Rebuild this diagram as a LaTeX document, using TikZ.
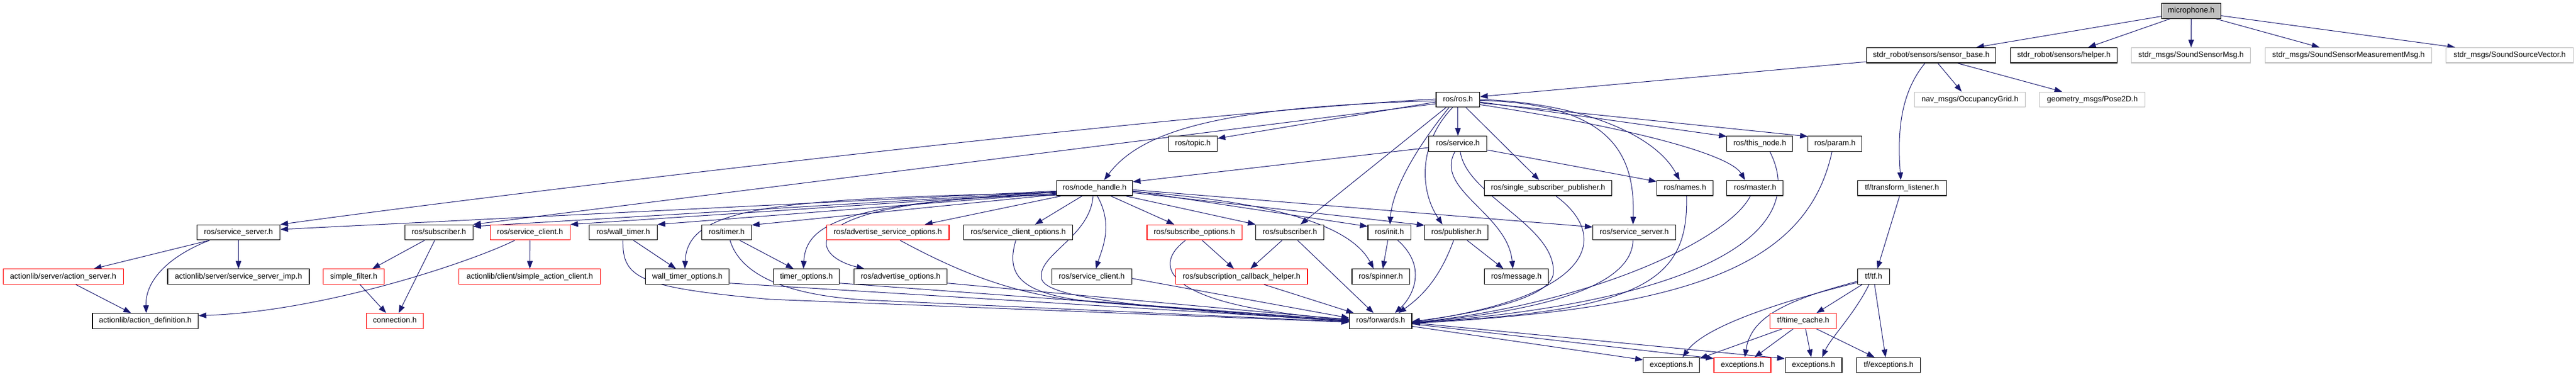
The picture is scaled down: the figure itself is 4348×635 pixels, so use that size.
\documentclass[tikz,border=0pt]{standalone}
\usepackage{fontspec}
\setmainfont{Liberation Sans}
\usetikzlibrary{arrows.meta,calc,backgrounds}
\definecolor{edgec}{RGB}{25,25,112}
\definecolor{extgrey}{RGB}{191,191,191}
\begin{document}
\begin{tikzpicture}[x=1pt,y=-1pt,
  hbox/.style={draw=black, line width=1.1pt, fill=white, minimum height=25.6pt, inner sep=0pt,
     font=\fontsize{13}{15}\selectfont, text height=9.5pt, text depth=2.8pt},
  rbox/.style={hbox, draw=red},
  gbox/.style={hbox, draw=extgrey},
  mbox/.style={hbox, fill=extgrey},
  dep/.style={draw=edgec, line width=1pt, -{Triangle[length=13pt,width=9.5pt]}}]
\useasboundingbox (0,0) rectangle (4348,635);
% row 0
\node[mbox, minimum width=99.7pt] (mic) at (3698.5,18.5) {microphone.h};
% row 1
\node[hbox, minimum width=218.4pt] (sb) at (3259.7,93.2) {stdr\_robot/sensors/sensor\_base.h};
\node[hbox, minimum width=180.2pt] (helper) at (3483.6,93.2) {stdr\_robot/sensors/helper.h};
\node[gbox, minimum width=201.2pt] (ssm) at (3698.3,93.2) {stdr\_msgs/SoundSensorMsg.h};
\node[gbox, minimum width=280.5pt] (ssmm) at (3964,93.2) {stdr\_msgs/SoundSensorMeasurementMsg.h};
\node[gbox, minimum width=214.7pt] (ssv) at (4235.9,93.2) {stdr\_msgs/SoundSourceVector.h};
% row 2
\node[hbox, minimum width=73.6pt] (ros) at (2460.8,168) {ros/ros.h};
\node[gbox, minimum width=187.2pt] (occ) at (3325.1,168) {nav\_msgs/OccupancyGrid.h};
\node[gbox, minimum width=177.6pt] (pose) at (3531.7,168) {geometry\_msgs/Pose2D.h};
% row 3
\node[hbox, minimum width=82.4pt] (topic) at (2013.4,242.5) {ros/topic.h};
\node[hbox, minimum width=97.8pt] (service) at (2460.8,242.5) {ros/service.h};
\node[hbox, minimum width=110.8pt] (thisnode) at (2970.3,242.5) {ros/this\_node.h};
\node[hbox, minimum width=90.8pt] (param) at (3097.2,242.5) {ros/param.h};
% row 4
\node[hbox, minimum width=128pt] (nh) at (1847.6,317.2) {ros/node\_handle.h};
\node[hbox, minimum width=215.1pt] (ssp) at (2613,317.2) {ros/single\_subscriber\_publisher.h};
\node[hbox, minimum width=95.1pt] (names) at (2844,317.2) {ros/names.h};
\node[hbox, minimum width=95pt] (master) at (2962.4,317.2) {ros/master.h};
\node[hbox, minimum width=149.5pt] (tl) at (3210.3,317.2) {tf/transform\_listener.h};
% row 5
\node[hbox, minimum width=140.2pt] (ssL) at (402.5,392) {ros/service\_server.h};
\node[hbox, minimum width=114.7pt] (subL) at (740.8,392) {ros/subscriber.h};
\node[rbox, minimum width=135pt] (sc) at (894.6,392) {ros/service\_client.h};
\node[hbox, minimum width=114.5pt] (wt) at (1052,392) {ros/wall\_timer.h};
\node[hbox, minimum width=83.8pt] (timer) at (1226.6,392) {ros/timer.h};
\node[rbox, minimum width=206.9pt] (aso) at (1498.5,392) {ros/advertise\_service\_options.h};
\node[hbox, minimum width=183.9pt] (sco) at (1718.6,392) {ros/service\_client\_options.h};
\node[rbox, minimum width=160.1pt] (subo) at (2016,392) {ros/subscribe\_options.h};
\node[hbox, minimum width=114.7pt] (subR) at (2177.1,392) {ros/subscriber.h};
\node[hbox, minimum width=72.2pt] (init) at (2345.1,392) {ros/init.h};
\node[hbox, minimum width=106.6pt] (pub) at (2458.2,392) {ros/publisher.h};
\node[hbox, minimum width=139.6pt] (ssR) at (2758.3,392) {ros/service\_server.h};
% row 6
\node[rbox, minimum width=203pt] (as) at (106.6,466.7) {actionlib/server/action\_server.h};
\node[hbox, minimum width=239pt] (ssi) at (402.5,466.7) {actionlib/server/service\_server\_imp.h};
\node[rbox, minimum width=102.9pt] (sf) at (597,466.7) {simple\_filter.h};
\node[rbox, minimum width=238.9pt] (sac) at (894.3,466.7) {actionlib/client/simple\_action\_client.h};
\node[hbox, minimum width=141.5pt] (wto) at (1160,466.7) {wall\_timer\_options.h};
\node[hbox, minimum width=110.8pt] (to) at (1361.1,466.7) {timer\_options.h};
\node[hbox, minimum width=157.4pt] (ao) at (1520.1,466.7) {ros/advertise\_options.h};
\node[hbox, minimum width=135pt] (scl) at (1842.7,466.7) {ros/service\_client.h};
\node[rbox, minimum width=222.7pt] (sch) at (2095.6,466.7) {ros/subscription\_callback\_helper.h};
\node[hbox, minimum width=97.3pt] (spin) at (2330.6,466.7) {ros/spinner.h};
\node[hbox, minimum width=108pt] (msg) at (2559.5,466.7) {ros/message.h};
\node[hbox, minimum width=53.5pt] (tf) at (3162.3,466.7) {tf/tf.h};
% row 7
\node[hbox, minimum width=178.7pt] (ad) at (245.3,541.5) {actionlib/action\_definition.h};
\node[rbox, minimum width=96.3pt] (conn) at (666.4,541.5) {connection.h};
\node[hbox, minimum width=105.2pt] (fwd) at (2330.4,541.5) {ros/forwards.h};
\node[rbox, minimum width=112.2pt] (tc) at (3043.6,541.5) {tf/time\_cache.h};
% row 8
\node[hbox, minimum width=95pt] (ex1) at (2821.1,616) {exceptions.h};
\node[rbox, minimum width=96pt] (exr) at (2941,616) {exceptions.h};
\node[hbox, minimum width=95.8pt] (ex2) at (3061.1,616) {exceptions.h};
\node[hbox, minimum width=108pt] (tfex) at (3187.8,616) {tf/exceptions.h};

\begin{pgfonlayer}{background}
% microphone
\draw[dep] ($(mic.west)+(0,9)$) -- ($(sb.north)+(76,0)$);
\draw[dep] ($(mic.south)+(-36,0)$) -- ($(helper.north)+(41,0)$);
\draw[dep] (mic.south) -- (ssm.north);
\draw[dep] ($(mic.south)+(42,0)$) -- ($(ssmm.north)+(-49,0)$);
\draw[dep] ($(mic.east)+(0,8)$) -- ($(ssv.north)+(-92,0)$);
% sensor_base
\draw[dep] ($(sb.west)+(0,11)$) -- ($(ros.east)+(0,-5)$);
\draw[dep] ($(sb.south)+(-10.5,0)$) .. controls (3205,160) and (3203,230) .. ($(tl.north)+(-2,0)$);
\draw[dep] ($(sb.south)+(11,0)$) -- ($(occ.north)+(-14,0)$);
\draw[dep] ($(sb.south)+(44,0)$) -- ($(pose.north)+(-51,0)$);
% ros.h
\draw[dep] (ros.south) -- (service.north);
\draw[dep] ($(ros.south)+(13.5,0)$) -- ($(ssp.north)+(-15,0)$);
\draw[dep] (ros.east) .. controls (2650,172) and (2790,220) .. ($(names.north)+(-9,0)$);
\draw[dep] ($(ros.east)+(0,4)$) -- ($(thisnode.north west)+(0,1)$);
\draw[dep] ($(ros.east)+(0,5.5)$) -- ($(param.north west)+(0,1)$);
\draw[dep] ($(ros.east)+(0,8.5)$) .. controls (2750,215) and (2920,260) .. ($(master.north)+(-17,0)$);
\draw[dep] ($(ros.east)+(0,1.5)$) .. controls (2720,175) and (2760,260) .. ($(ssR.north)+(-2,0)$);
\draw[dep] ($(ros.west)+(0,4)$) -- ($(topic.east)+(0,-9)$);
\draw[dep] ($(ros.west)+(0,2)$) .. controls (2080,180) and (1930,215) .. ($(nh.north)+(16,0)$);
\draw[dep] ($(ros.west)+(0,-1)$) .. controls (2000,190) and (900,320) .. (ssL.north east);
\draw[dep] ($(ros.west)+(0,7)$) -- (subL.north east);
\draw[dep] ($(ros.south)+(-20,0)$) -- ($(subR.north)+(18,0)$);
\draw[dep] ($(ros.south)+(-15,0)$) .. controls (2390,250) and (2350,320) .. ($(init.north)+(1,0)$);
\draw[dep] ($(ros.south)+(-9,0)$) .. controls (2395,240) and (2395,320) .. ($(pub.north)+(-23.5,0)$);
% service.h
\draw[dep] ($(service.west)+(0,6.5)$) -- ($(nh.east)+(0,-10.5)$);
\draw[dep] ($(service.east)+(0,10.5)$) -- ($(names.west)+(0,-11)$);
\draw[dep] ($(service.south)+(-5,0)$) .. controls (2420,320) and (2545,360) .. ($(msg.north)+(-6,0)$);
\draw[dep] ($(service.south)+(4,0)$) .. controls (2475,330) and (2625,380) .. (2622,460)
   .. controls (2620,505) and (2480,530) .. ($(fwd.east)+(0,1)$);
% to forwards from upper right
\draw[dep] ($(ssp.south)+(13,0)$) .. controls (2720,400) and (2690,500) .. ($(fwd.east)+(0,2)$);
\draw[dep] ($(names.south)+(2.7,0)$) .. controls (2850,470) and (2780,525) .. ($(fwd.east)+(0,2.5)$);
\draw[dep] ($(ssR.south)+(-2,0)$) .. controls (2755,470) and (2650,520) .. ($(fwd.east)+(0,3)$);
\draw[dep] ($(master.south)+(-8,0)$) .. controls (2920,400) and (2700,510) .. ($(fwd.east)+(0,3)$);
\draw[dep] ($(thisnode.south)+(17,0)$) .. controls (3060,400) and (2850,510) .. ($(fwd.east)+(0,3.5)$);
\draw[dep] ($(param.south)+(-5,0)$) .. controls (3050,450) and (2850,520) .. ($(fwd.east)+(0,4)$);
% init / publisher / subscriber(R)
\draw[dep] ($(init.south)+(-2.6,0)$) -- ($(spin.north)+(3.4,0)$);
\draw[dep] ($(init.south)+(14,0)$) .. controls (2410,450) and (2385,500) .. ($(fwd.north)+(24,0)$);
\draw[dep] ($(pub.south)+(18,0)$) -- ($(msg.north)+(-22,0)$);
\draw[dep] ($(pub.south)+(-4.6,0)$) .. controls (2430,470) and (2400,500) .. ($(fwd.north)+(30,0)$);
\draw[dep] ($(subR.south)+(13,0)$) -- ($(fwd.north)+(-12,0)$);
\draw[dep] ($(subR.south)+(-13,0)$) -- ($(sch.north)+(15,0)$);
\draw[dep] ($(subo.south)+(13,0)$) -- ($(sch.north)+(-13,0)$);
\draw[dep] ($(subo.south)+(-15,0)$) .. controls (1930,460) and (2000,520) .. ($(fwd.west)+(0,-3)$);
\draw[dep] ($(sch.south)+(38,0)$) -- ($(fwd.north west)+(8,0)$);
% row 6 to forwards
\draw[dep] ($(scl.east)+(0,3)$) -- ($(fwd.west)+(0,-5)$);
\draw[dep] ($(ao.east)+(0,11)$) -- ($(fwd.west)+(0,-2)$);
\draw[dep] ($(to.east)+(0,11)$) -- ($(fwd.west)+(0,-1)$);
\draw[dep] ($(wto.east)+(0,11)$) -- ($(fwd.west)+(0,0)$);
\draw[dep] ($(wt.south)+(-0.5,0)$) .. controls (1050,470) and (1080,485) .. (1300,505) -- ($(fwd.west)+(0,2)$);
\draw[dep] ($(timer.south)+(5.6,0)$) .. controls (1250,465) and (1330,498) .. (1460,506) -- ($(fwd.west)+(0,1.5)$);
\draw[dep] ($(aso.south)+(20.5,0)$) .. controls (1620,460) and (1700,490) .. (1800,505) -- ($(fwd.west)+(0,-1)$);
\draw[dep] ($(sco.south)+(-4,0)$) .. controls (1695,470) and (1730,497) .. (1850,510) -- ($(fwd.west)+(0,0.5)$);
\draw[dep] ($(nh.south)+(-2.6,0)$) .. controls (1840,400) and (1750,430) .. (1758,470)
   .. controls (1765,505) and (1950,520) .. ($(fwd.west)+(0,1)$);
% node_handle.h
\draw[dep] ($(nh.south)+(4.4,0)$) .. controls (1880,380) and (1860,420) .. ($(scl.north)+(7,0)$);
\draw[dep] ($(nh.south)+(-56,0)$) -- ($(aso.north)+(62.5,0)$);
\draw[dep] ($(nh.south)+(-21,0)$) -- ($(sco.north)+(28.4,0)$);
\draw[dep] ($(nh.south)+(27,0)$) -- ($(subo.north)+(-34,0)$);
\draw[dep] ($(nh.south)+(52,0)$) -- (subR.north west);
\draw[dep] ($(nh.east)+(0,5)$) -- ($(init.west)+(0,-10)$);
\draw[dep] ($(nh.east)+(0,8)$) -- ($(pub.west)+(0,-12)$);
\draw[dep] ($(nh.east)+(0,3)$) -- ($(ssR.west)+(0,-9)$);
\draw[dep] ($(nh.east)+(0,6)$) .. controls (2150,340) and (2280,380) .. ($(spin.north)+(-12,0)$);
\draw[dep] ($(nh.west)+(0,5)$) -- ($(ssL.east)+(0,-5)$);
\draw[dep] ($(nh.west)+(0,6)$) -- ($(subL.east)+(0,-10)$);
\draw[dep] ($(nh.west)+(0,7)$) -- (sc.north east);
\draw[dep] ($(nh.west)+(0,9)$) -- (wt.north east);
\draw[dep] ($(nh.west)+(0,11)$) -- ($(timer.north east)+(0,1)$);
\draw[dep] ($(nh.west)+(0,8)$) .. controls (1300,335) and (1160,350) .. ($(wto.north)+(-4,0)$);
\draw[dep] ($(nh.west)+(0,10)$) .. controls (1420,340) and (1360,380) .. ($(to.north)+(-5,0)$);
\draw[dep] ($(nh.west)+(0,12)$) .. controls (1330,335) and (1360,430) .. ($(ao.north west)+(18,0)$);
% left part
\draw[dep] ($(ssL.south)+(-48.7,0)$) -- ($(as.north)+(51.7,0)$);
\draw[dep] ($(ssL.south)+(-48.7,0)$) .. controls (290,430) and (245,470) .. ($(ad.north)+(1.5,0)$);
\draw[dep] (ssL.south) -- (ssi.north);
\draw[dep] ($(as.south)+(21.4,0)$) -- ($(ad.north)+(-24,0)$);
\draw[dep] ($(sc.south)+(-25.6,0)$) .. controls (800,440) and (550,525) .. ($(ad.east)+(0,-9)$);
\draw[dep] (sc.south) -- (sac.north);
\draw[dep] ($(subL.south)+(-24,0)$) -- ($(sf.north)+(31.5,0)$);
\draw[dep] ($(subL.south)+(-7,0)$) -- ($(conn.north)+(6.4,0)$);
\draw[dep] ($(sf.south)+(10.6,0)$) -- ($(conn.north)+(-14.6,0)$);
\draw[dep] ($(wt.south)+(17,0)$) -- ($(wto.north)+(-19,0)$);
\draw[dep] ($(timer.south)+(21.8,0)$) -- ($(to.north)+(-21.7,0)$);
% tf part
\draw[dep] ($(tl.south)+(-4,0)$) -- ($(tf.north)+(6.4,0)$);
\draw[dep] ($(tf.south)+(-19.3,0)$) -- ($(tc.north)+(22.4,0)$);
\draw[dep] ($(tf.south)+(-7.6,0)$) .. controls (3130,530) and (3090,570) .. ($(ex2.north)+(14.5,0)$);
\draw[dep] ($(tf.south)+(1.7,0)$) -- ($(tfex.north)+(-5.2,0)$);
\draw[dep] ($(tf.west)+(0,8)$) .. controls (3000,510) and (2955,540) .. ($(exr.north)+(4,0)$);
\draw[dep] ($(tf.west)+(0,10)$) .. controls (2960,520) and (2870,560) .. ($(ex1.north)+(19,0)$);
\draw[dep] ($(tc.south)+(-35.6,0)$) -- ($(ex1.north east)+(0,2)$);
\draw[dep] ($(tc.south)+(-17,0)$) -- ($(exr.north)+(20.5,0)$);
\draw[dep] ($(tc.south)+(4,0)$) -- ($(ex2.north)+(-4,0)$);
\draw[dep] ($(tc.south)+(22.4,0)$) -- ($(tfex.north)+(-23.8,0)$);
\draw[dep] ($(fwd.east)+(0,9)$) -- ($(ex1.west)+(0,-9)$);
\draw[dep] ($(fwd.east)+(0,5)$) -- ($(exr.north west)+(0,2)$);
\draw[dep] ($(fwd.east)+(0,3)$) -- ($(ex2.west)+(0,-11)$);
\end{pgfonlayer}
\end{tikzpicture}
\end{document}
